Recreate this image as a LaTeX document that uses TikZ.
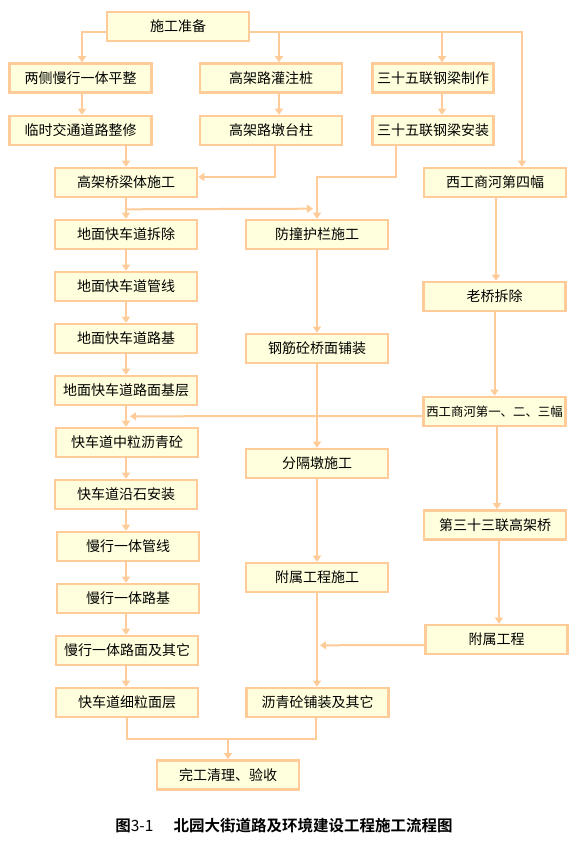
\documentclass[tikz,border=0pt]{standalone}
\usepackage{fontspec}
\setmainfont{Noto Sans CJK SC}
\newfontfamily\capfont{Noto Sans CJK SC Bold}
\usetikzlibrary{arrows.meta,calc}
\definecolor{bd}{RGB}{255,204,153}
\definecolor{bf}{RGB}{255,255,221}
\begin{document}
\begin{tikzpicture}[x=1pt,y=-1pt,
  box/.style={draw=bd,fill=bf,line width=2.6pt,minimum width=142pt,minimum height=29pt,inner sep=0pt,
    font=\fontsize{14}{15}\selectfont},
  conn/.style={draw=bd,line width=2pt},
  arr/.style={conn,-{Triangle[length=6pt,width=8pt]}}]
\useasboundingbox[fill=white] (0,0) rectangle (576,843);

% top
\node[box] (prep) at (178,26.5) {施工准备};
\node[box] (a1) at (80.5,78) {两侧慢行一体平整};
\node[box] (a2) at (80.5,130.5) {临时交通道路整修};
\node[box] (b1) at (271,78) {高架路灌注桩};
\node[box] (b2) at (271,130.5) {高架路墩台柱};
\node[box,minimum width=121pt] (c1) at (433,78) {三十五联钢梁制作};
\node[box,minimum width=121pt] (c2) at (433,130.5) {三十五联钢梁安装};
\node[box] (g) at (126,182.5) {高架桥梁体施工};
\node[box] (d1) at (495,182.5) {西工商河第四幅};

% left column
\node[box] (L1) at (126,234.5) {地面快车道拆除};
\node[box] (L2) at (126,286.5) {地面快车道管线};
\node[box] (L3) at (126,338.5) {地面快车道路基};
\node[box] (L4) at (126,390.5) {地面快车道路面基层};
\node[box] (L5) at (127,442.5) {快车道中粒沥青砼};
\node[box] (L6) at (126,494.5) {快车道沿石安装};
\node[box] (L7) at (128,546.5) {慢行一体管线};
\node[box] (L8) at (128,598.5) {慢行一体路基};
\node[box] (L9) at (127,650.5) {慢行一体路面及其它};
\node[box] (L10) at (127,702.5) {快车道细粒面层};

% middle column
\node[box] (M1) at (317,234.5) {防撞护栏施工};
\node[box] (M2) at (317,348.5) {钢筋砼桥面铺装};
\node[box] (M3) at (317,463.5) {分隔墩施工};
\node[box] (M4) at (317,577.5) {附属工程施工};
\node[box] (M5) at (317.5,702.5) {沥青砼铺装及其它};

% right column
\node[box] (R1) at (494.5,296.5) {老桥拆除};
\node[box,font=\fontsize{12.4}{14}\selectfont] (R2) at (494.5,411.5) {西工商河第一、二、三幅};
\node[box] (R3) at (495,525) {第三十三联高架桥};
\node[box] (R4) at (496.5,639.5) {附属工程};

\node[box] (F) at (228,775) {完工清理、验收};

% caption
\node[font=\fontsize{15.5}{17}\selectfont] (cap) at (284,826)
  {\capfont 图\normalfont 3-1\hspace{1.3em}\capfont 北园大街道路及环境建设工程施工流程图};

% connectors from top
\draw[arr] ($(prep.west)+(0,5.5)$) -| ($(a1.north)+(1.5,0)$);
\draw[arr] ($(prep.east)+(0,5.5)$) -| ($(d1.north)+(27,0)$);
\draw[arr] ($(prep.east)+(0,5.5)$) -| ($(b1.north)+(8,0)$);
\draw[arr] ($(prep.east)+(0,5.5)$) -| ($(c1.north)+(9,0)$);

\draw[arr] ($(a1.south)+(1.5,0)$) -- ($(a2.north)+(1.5,0)$);
\draw[arr] (a2.south -| g.north) -- (g.north);
\draw[arr] ($(b1.south)+(8,0)$) -- ($(b2.north)+(8,0)$);
\draw[arr] ($(b2.south)+(4,0)$) |- ($(g.east)+(0,-5.5)$);
\draw[arr] ($(c1.south)+(9,0)$) -- ($(c2.north)+(9,0)$);
\draw[arr] ($(c2.south)+(-37,0)$) |- ($(M1.north)+(0,-42)$) -- (M1.north);
\draw[arr] ($(d1.south)+(1,0)$) -- ($(R1.north)+(1.5,0)$);

% left column chain
\draw[arr] (g.south) -- (L1.north -| g.south);
\draw[arr] ($(g.south)+(0,11)$) -- ($(M1.north)+(-4,-10)$);
\draw[arr] (L1.south -| g.south) -- (L2.north -| g.south);
\draw[arr] (L2.south -| g.south) -- (L3.north -| g.south);
\draw[arr] (L3.south -| g.south) -- (L4.north -| g.south);
\draw[arr] (L4.south -| g.south) -- (L5.north -| g.south);
\draw[arr] (L5.south -| g.south) -- (L6.north -| g.south);
\draw[arr] (L6.south -| g.south) -- (L7.north -| g.south);
\draw[arr] (L7.south -| g.south) -- (L8.north -| g.south);
\draw[arr] (L8.south -| g.south) -- (L9.north -| g.south);
\draw[arr] (L9.south -| g.south) -- (L10.north -| g.south);

% middle column chain
\draw[arr] (M1.south) -- (M2.north);
\draw[arr] (M2.south) -- (M3.north);
\draw[arr] (M3.south) -- (M4.north);
\draw[arr] (M4.south) -- (M5.north -| M4.south);

% right column chain
\draw[arr] (R1.south) -- (R2.north);
\draw[arr] ($(R2.west)+(0,4.5)$) -- ($(L4.south)+(4,10)$);
\draw[arr] ($(R2.south)+(2.5,0)$) -- ($(R3.north)+(2,0)$);
\draw[arr] ($(R3.south)+(4,0)$) -- ($(R4.north)+(2.5,0)$);
\draw[arr] ($(R4.west)+(0,5.5)$) -- ($(M4.south)+(3,52)$);

% final
\draw[conn] (L10.south) |- ($(M5.south)+(-1.5,21)$) -- ($(M5.south)+(-1.5,0)$);
\draw[arr] ($(F.north)+(0,-20)$) -- (F.north);
\end{tikzpicture}
\end{document}
